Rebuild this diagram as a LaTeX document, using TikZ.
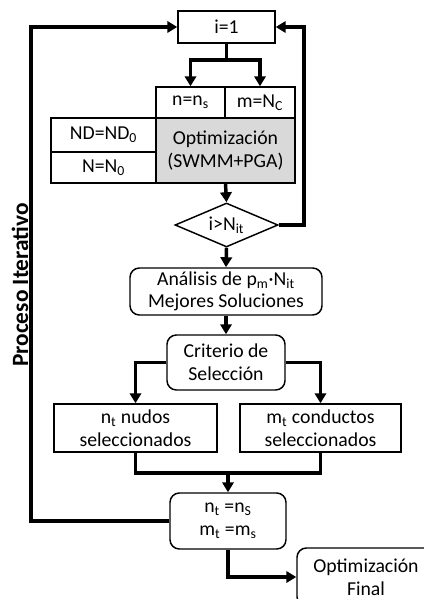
\documentclass[tikz,border=0pt]{standalone}
\usepackage{fontspec}
\setmainfont{Carlito}
\usepackage{tikz}
\usetikzlibrary{shapes.geometric,arrows.meta,positioning}

\begin{document}
\begin{tikzpicture}[x=0.75pt,y=-0.75pt,
  font=\fontsize{14.8}{17}\selectfont,
  sz/.style 2 args={minimum width=#1*0.75pt,minimum height=#2*0.75pt},
  box/.style={rectangle,draw=black,line width=1.1pt,fill=white,inner sep=0pt,align=center},
  rbox/.style={box,rounded corners=7pt},
  cond/.style={diamond,draw=black,line width=1.1pt,fill=white,inner sep=0pt,aspect=2.3},
  flow/.style={line width=2.6pt,black},
  arr/.style={flow,-{Triangle[length=7.5pt,width=8.5pt]}}]
  \useasboundingbox (0,0) rectangle (424,599);
  \node[box,sz={97}{32}] (i1) at (226.5,27) {i=1};
  \node[box,sz={69}{31}] (ns) at (190.5,102.5) {n=n\textsubscript{s}};
  \node[box,sz={70}{31}] (mc) at (260,102.5) {m=N\textsubscript{C}};
  \node[box,sz={105}{34}] (nd) at (103.5,135) {ND=ND\textsubscript{0}};
  \node[box,sz={105}{31}] (n0) at (103.5,167.5) {N=N\textsubscript{0}};
  \node[box,fill=black!15,sz={139}{65}] (opt) at (225.5,150.5) {Optimización\\(SWMM+PGA)};
  \node[cond,sz={103}{44}] (dia) at (226.5,225) {i>N\textsubscript{it}};
  \node[rbox,sz={192}{47}] (ana) at (226,291.5) {Análisis de p\textsubscript{m}·N\textsubscript{it}\\Mejores Soluciones};
  \node[rbox,sz={118}{55}] (cri) at (226,362.5) {Criterio de\\Selección};
  \node[box,sz={163}{48}] (nud) at (135.5,428) {n\textsubscript{t} nudos\\seleccionados};
  \node[box,sz={161}{48}] (con) at (320.5,428) {m\textsubscript{t} conductos\\seleccionados};
  \node[rbox,sz={116}{56}] (nts) at (228,521) {n\textsubscript{t} =n\textsubscript{S}\\m\textsubscript{t} =m\textsubscript{s}};
  \node[rbox,sz={138}{58}] (fin) at (366,577) {Optimización\\Final};
  \node[rotate=90,font=\fontsize{17.5}{20}\selectfont\bfseries] (lbl) at (20,285) {Proceso Iterativo};
  % junctions
  \coordinate (sp) at (226.5,60);
  \coordinate (rr) at (304,225);
  \coordinate (jn) at (228,473);
  \coordinate (ll) at (31,521);
  \draw[flow] (i1.south) -- (sp);
  \draw[arr] (sp) -| (ns.north);
  \draw[arr] (sp) -| (mc.north);
  \draw[arr] (opt.south) -- (dia.north);
  \draw[arr] (dia.east) -- (rr) |- (i1.east);
  \draw[arr] (dia.south) -- (ana.north);
  \draw[arr] (ana.south) -- (cri.north);
  \draw[arr] (cri.west) -| (nud.north);
  \draw[arr] (cri.east) -| (con.north);
  \draw[flow] (nud.south) |- (jn) -| (con.south);
  \draw[arr] (jn) -- (nts.north);
  \draw[arr] (nts.west) -- (ll) |- (i1.west);
  \draw[arr] (nts.south) |- (fin.west);
\end{tikzpicture}
\end{document}
